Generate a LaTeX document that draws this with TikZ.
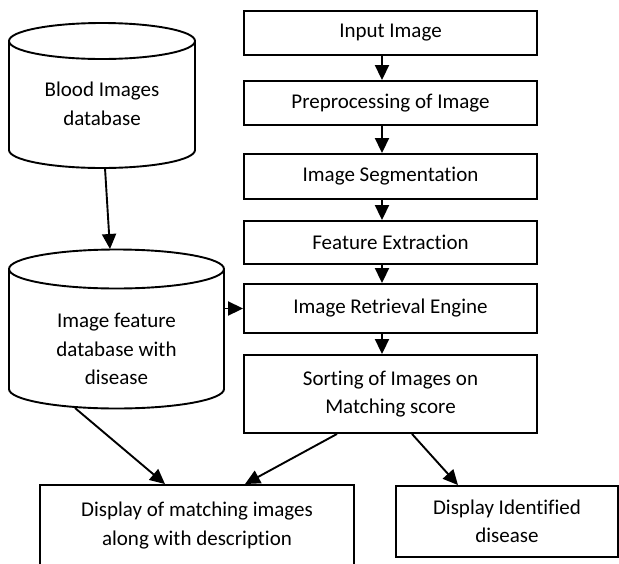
\documentclass[tikz,border=0pt]{standalone}
\usepackage{fontspec}
\setmainfont{Carlito}[Ligatures=NoCommon]
\usetikzlibrary{arrows.meta}
\begin{document}
\begin{tikzpicture}[x=1pt,y=1pt,
  font=\fontsize{21}{28.5}\selectfont,
  line width=1.9pt,
  stepbox/.style={draw,line width=1.9pt,minimum width=293pt,inner sep=0pt,align=center},
  outbox/.style={draw,line width=1.9pt,inner sep=0pt,align=center},
  dbtext/.style={align=center,inner sep=0pt},
  flow/.style={-{Triangle[length=15pt,width=14pt]},line width=1.9pt}]
\useasboundingbox (0,0) rectangle (619,-563);
\clip (0,0) rectangle (619,-563);

% Blood images database cylinder
\draw (9,-41) -- (9,-150) arc[start angle=180,end angle=360,x radius=93,y radius=18] -- (195,-41);
\draw (102,-41) ellipse[x radius=93,y radius=18];
\node[dbtext] (bdb) at (102,-104) {Blood Images\\database};
\coordinate (bdb-s) at (105,-168);

% Image feature database cylinder
\draw (9,-269) -- (9,-389) arc[start angle=180,end angle=360,x radius=107.5,y radius=19.5] -- (224,-269);
\draw (116.5,-269) ellipse[x radius=107.5,y radius=19.5];
\node[dbtext] (fdb) at (116.5,-349) {Image feature\\database with\\disease};
\coordinate (fdb-n) at (110,-249);
\coordinate (fdb-e) at (224,-308.5);
\coordinate (fdb-s) at (75,-408);

% Processing chain
\node[stepbox,minimum height=44pt] (in)   at (390.5,-33)    {Input Image};
\node[stepbox,minimum height=44pt] (pre)  at (390.5,-103)   {Preprocessing of Image};
\node[stepbox,minimum height=45pt] (seg)  at (390.5,-176.5) {Image Segmentation};
\node[stepbox,minimum height=43pt] (feat) at (390.5,-242.5) {Feature Extraction};
\node[stepbox,minimum height=49pt] (ret)  at (390.5,-308.5) {Image Retrieval Engine};
\node[stepbox,minimum height=78pt] (sort) at (390.5,-394)   {Sorting of Images on\\Matching score};

% Outputs
\node[outbox,minimum width=314pt,minimum height=81pt] (disp) at (197,-525.5) {Display of matching images\\along with description};
\node[outbox,minimum width=222pt,minimum height=71pt] (ident) at (507,-521.5) {Display Identified\\disease};

% Connectors
\draw[flow] ([xshift=-8.5pt]in.south)   -- ([xshift=-8.5pt]pre.north);
\draw[flow] ([xshift=-8.5pt]pre.south)  -- ([xshift=-8.5pt]seg.north);
\draw[flow] ([xshift=-8.5pt]seg.south)  -- ([xshift=-8.5pt]feat.north);
\draw[flow] ([xshift=-8.5pt]feat.south) -- ([xshift=-8.5pt]ret.north);
\draw[flow] ([xshift=-8.5pt]ret.south)  -- ([xshift=-8.5pt]sort.north);
\draw[flow] (bdb-s) -- (fdb-n);
\draw[flow] (fdb-e) -- (ret.west);
\draw[flow] (fdb-s) -- ([xshift=-32pt]disp.north);
\draw[flow] ([xshift=-53.5pt]sort.south) -- ([xshift=48pt]disp.north);
\draw[flow] ([xshift=21.5pt]sort.south) -- ([xshift=-49pt]ident.north);
\end{tikzpicture}
\end{document}
